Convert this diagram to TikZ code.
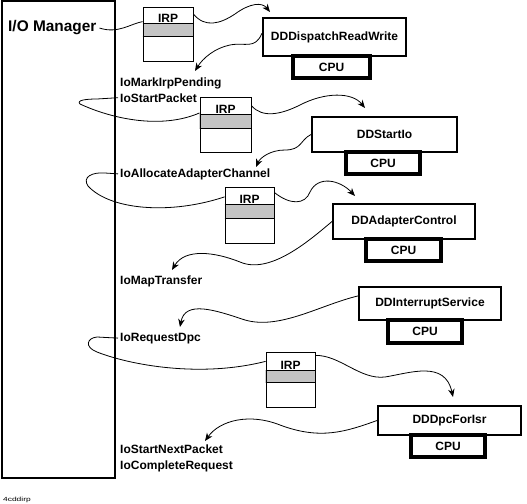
\documentclass[tikz,border=0pt]{standalone}
\usepackage{fontspec}
\setmainfont{Liberation Sans}
\usetikzlibrary{arrows.meta,patterns,patterns.meta,calc}
\begin{document}
\begin{tikzpicture}[x=1pt,y=-1pt,
  bfont/.style={font=\fontsize{12}{14}\selectfont\bfseries},
  lbl/.style={bfont, inner sep=0pt, anchor=base west},
  ddbox/.style={draw, line width=2pt, inner sep=0pt, fill=white, bfont},
  cpubox/.style={draw, line width=3.5pt, inner sep=0pt, fill=white, bfont},
  irpbox/.style={draw, line width=0.9pt, inner sep=0pt},
  irpband/.style={pattern={Dots[distance=2pt,radius=0.7pt]}},
  conn/.style={line width=0.8pt},
  arr/.style={conn, -{Stealth[length=8pt,width=6.5pt,inset=2.5pt]}}]
\useasboundingbox (0,0) rectangle (527,503);

% I/O Manager
\node[draw, line width=2pt, minimum width=113pt, minimum height=476pt, inner sep=0pt] (iombox) at (58,239.5) {};
\node[font=\fontsize{15.4}{18}\selectfont\bfseries, inner sep=0pt, anchor=base west] (iom) at (8,32) {I/O Manager};

% labels
\node[lbl] (mark) at (120,86.5) {IoMarkIrpPending};
\node[lbl] (stp) at (120,102) {IoStartPacket};
\node[lbl] (alloc) at (120,177) {IoAllocateAdapterChannel};
\node[lbl] (mapt) at (120,284) {IoMapTransfer};
\node[lbl] (rdpc) at (120,341) {IoRequestDpc};
\node[lbl] (snp) at (120,453) {IoStartNextPacket};
\node[lbl] (creq) at (120,469.5) {IoCompleteRequest};

% driver routines
\node[ddbox, minimum width=143pt, minimum height=38pt] (dd1) at (334.5,37) {DDDispatchReadWrite};
\node[cpubox, minimum width=77pt, minimum height=22pt] (cpu1) at (331.5,67) {CPU};
\node[ddbox, minimum width=145pt, minimum height=35pt] (dd2) at (384.5,134.5) {DDStartIo};
\node[cpubox, minimum width=74pt, minimum height=22pt] (cpu2) at (383,163) {CPU};
\node[ddbox, minimum width=142pt, minimum height=35pt] (dd3) at (404,221.5) {DDAdapterControl};
\node[cpubox, minimum width=75pt, minimum height=22pt] (cpu3) at (403.5,250) {CPU};
\node[ddbox, minimum width=142pt, minimum height=33pt] (dd4) at (430,303.5) {DDInterruptService};
\node[cpubox, minimum width=74pt, minimum height=23pt] (cpu4) at (425,331.5) {CPU};
\node[ddbox, minimum width=143pt, minimum height=29pt] (dd5) at (449.5,420.5) {DDDpcForIsr};
\node[cpubox, minimum width=74pt, minimum height=22pt] (cpu5) at (448,446) {CPU};

% IRPs
\node[irpbox, minimum width=50pt, minimum height=54pt] (irp1) at (168,34) {};
\fill[irpband] ([yshift=-17pt]irp1.north west) rectangle ([yshift=-30pt]irp1.north east);
\draw[line width=0.9pt] (irp1.north west) ++(0,17) -- ++(50,0) ++(-50,13) -- ++(50,0);
\node[bfont, inner sep=0pt, anchor=base] (irp1t) at ([yshift=-16pt]irp1.north) {IRP};

\node[irpbox, minimum width=51pt, minimum height=55pt] (irp2) at (225.5,124.5) {};
\fill[irpband] ([yshift=-18pt]irp2.north west) rectangle ([yshift=-32pt]irp2.north east);
\draw[line width=0.9pt] (irp2.north west) ++(0,18) -- ++(51,0) ++(-51,14) -- ++(51,0);
\node[bfont, inner sep=0pt, anchor=base] (irp2t) at ([yshift=-17pt]irp2.north) {IRP};

\node[irpbox, minimum width=49pt, minimum height=56pt] (irp3) at (249.5,215) {};
\fill[irpband] ([yshift=-18pt]irp3.north west) rectangle ([yshift=-32pt]irp3.north east);
\draw[line width=0.9pt] (irp3.north west) ++(0,18) -- ++(49,0) ++(-49,14) -- ++(49,0);
\node[bfont, inner sep=0pt, anchor=base] (irp3t) at ([yshift=-17pt]irp3.north) {IRP};

\node[irpbox, minimum width=49pt, minimum height=55pt] (irp4) at (290.5,379.5) {};
\fill[irpband] ([yshift=-19pt]irp4.north west) rectangle ([yshift=-31pt]irp4.north east);
\draw[line width=0.9pt] (irp4.north west) ++(0,19) -- ++(49,0) ++(-49,12) -- ++(49,0);
\node[bfont, inner sep=0pt, anchor=base] (irp4t) at ([yshift=-18pt]irp4.north) {IRP};

% tips
\coordinate (t1) at (270,12);
\coordinate (t2) at (195,71);
\coordinate (t3) at (365,108);
\coordinate (t4) at (256,167);
\coordinate (t5) at (355,196);
\coordinate (t6) at (172,270);
\coordinate (t7) at (180,327);
\coordinate (t8) at (453,397);
\coordinate (t9) at (205,441);

% connectors
\draw[conn] ([xshift=3pt]iom.east) .. controls (118,34) and (130,24) .. (irp1.154);
\draw[arr] (irp1.38) .. controls (205,28) and (220,24) .. (235,14) .. controls (250,3) and (262,2) .. (t1);
\draw[arr] (dd1.177) .. controls (255,50) and (245,42) .. (230,45) .. controls (215,48) and (203,58) .. (t2);

\draw[conn] ([xshift=-2pt]stp.west) -- (97,99) .. controls (87,99) and (76,100) .. (80,104) .. controls (110,118) and (160,130) .. (irp2.156);
\draw[arr] (irp2.36) .. controls (262,118) and (280,115) .. (300,105) .. controls (325,92) and (352,92) .. (t3);
\draw[arr] (dd2.west) .. controls (300,140) and (302,150) .. (285,150) .. controls (270,150) and (260,158) .. (t4);

\draw[conn] ([xshift=-2pt]alloc.west) -- (105,173) .. controls (92,172) and (82,177) .. (88,186) .. controls (110,210) and (170,215) .. (irp3.144);
\draw[arr] (irp3.42) .. controls (290,205) and (305,205) .. (310,192) .. controls (318,175) and (340,180) .. (t5);
\draw[arr] (dd3.west) .. controls (310,240) and (270,275) .. (240,262) .. controls (215,252) and (185,248) .. (t6);

\draw[arr] (dd4.174) .. controls (320,305) and (280,330) .. (245,320) .. controls (215,310) and (185,300) .. (t7);
\draw[conn] ([xshift=-2pt]rdpc.west) -- (97,337) .. controls (87,338) and (84,347) .. (97,352) .. controls (130,365) and (200,378) .. (irp4.144);
\draw[arr] (irp4.44) .. controls (340,355) and (360,380) .. (385,377) .. controls (410,373) and (445,360) .. (t8);
\draw[arr] (dd5.west) .. controls (345,432) and (320,440) .. (280,425) .. controls (250,413) and (220,420) .. (t9);

% footer
\node[inner sep=0pt, anchor=base west, font=\fontsize{6}{7}\selectfont] (foot) at (3,501) {\scalebox{1.4}[1]{4cddirp}};
\end{tikzpicture}
\end{document}
